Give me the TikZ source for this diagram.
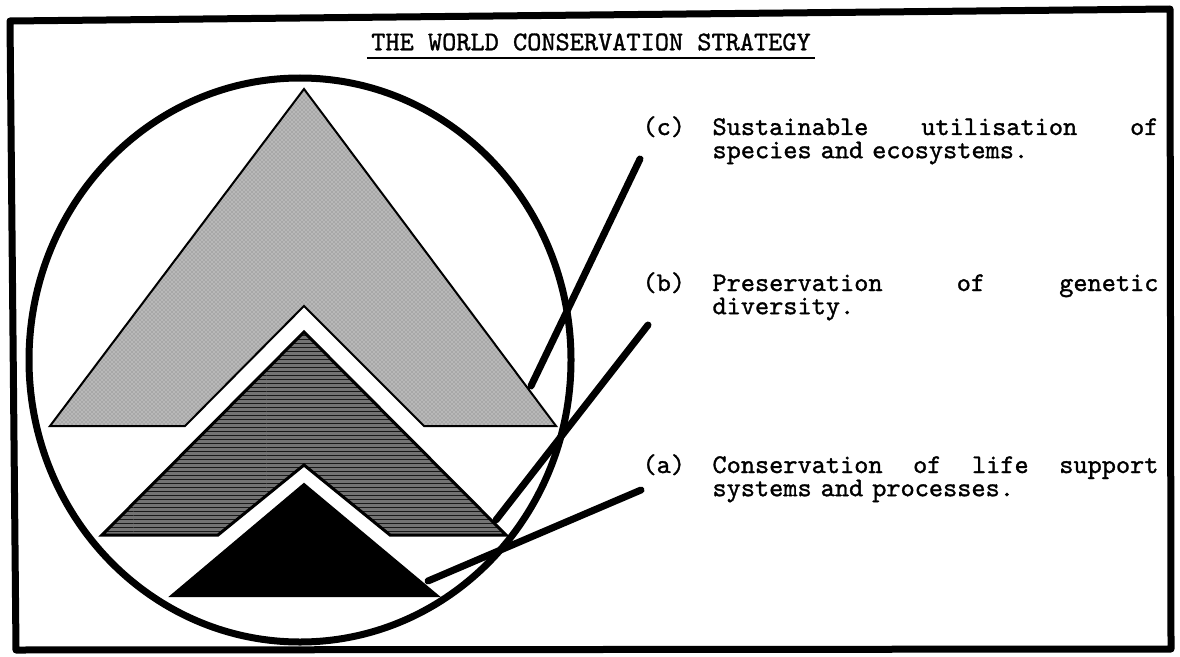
\documentclass[tikz,border=0pt]{standalone}
\usepackage{fontspec}
\usetikzlibrary{patterns}

\newfontfamily\typewriter{lmmono10-regular.otf}[FakeBold=1.2, WordSpace={1,0,0}]
\newcommand\notefont{\typewriter\fontsize{20.25pt}{17.4pt}\selectfont}

\tikzset{every picture/.style={line width=0.75pt}}
\tikzset{
  frameline/.style={line width=5.25pt, line join=round},
  leader/.style={line width=5.25pt, line cap=round},
  chevron/.style={draw=black, line width=1.5pt, line join=miter},
  note/.style={font=\notefont, inner sep=0pt},
}

\begin{document}
\begin{tikzpicture}[x=0.75pt,y=0.75pt,yscale=-1,xscale=1]
\useasboundingbox (0,0) rectangle (1180,656);

%Shape: Frame
\draw[frameline] (10,21) -- (1170,9) -- (1171,649) -- (16,650) -- cycle;

%Shape: Polygon [light chevron]
\fill[black!28] (304,89) -- (556,426) -- (424,426) -- (304,306) -- (185,426) -- (50,426) -- cycle;
\fill[pattern=crosshatch dots, pattern color=black!55] (304,89) -- (556,426) -- (424,426) -- (304,306) -- (185,426) -- (50,426) -- cycle;
\draw[chevron] (304,89) -- (556,426) -- (424,426) -- (304,306) -- (185,426) -- (50,426) -- cycle;

%Shape: Polygon [hatched chevron]
\fill[black!55] (304,332) -- (506,535) -- (390,535) -- (304,465) -- (218,535) -- (102,535) -- cycle;
\fill[pattern=horizontal lines, pattern color=black!90] (304,332) -- (506,535) -- (390,535) -- (304,465) -- (218,535) -- (102,535) -- cycle;
\draw[chevron, line width=2.25pt] (304,332) -- (506,535) -- (390,535) -- (304,465) -- (218,535) -- (102,535) -- cycle;

%Shape: Triangle [black]
\draw[chevron, fill=black] (304,484) -- (438,596) -- (171,596) -- cycle;

%Shape: Circle
\draw[line width=5.25pt] (300,360) ellipse [x radius=271, y radius=282];

% Text Node
\node[note, inner xsep=3pt, inner ysep=5pt] (title) at (591,42) {THE WORLD CONSERVATION STRATEGY};
\draw[line width=1.5pt] (title.south west) -- (title.south east);

% Text Node
\node[note, anchor=base west] (lc) at (642,135) {(c)};
\node[note, anchor=base west, text width=334.5pt] (tc) at (712,135) {\makebox[\linewidth][s]{Sustainable\hfill utilisation\hfill of}\\\makebox{species and ecosystems.}};
% Text Node
\node[note, anchor=base west] (lb) at (642,291) {(b)};
\node[note, anchor=base west, text width=334.5pt] (tb) at (712,291) {\makebox[\linewidth][s]{Preservation\hfill of\hfill genetic}\\\makebox{diversity.}};
% Text Node
\node[note, anchor=base west] (la) at (642,473) {(a)};
\node[note, anchor=base west, text width=334.5pt] (ta) at (712,473) {\makebox[\linewidth][s]{Conservation\hfill of\hfill life\hfill support}\\\makebox{systems and processes.}};

%Straight Lines [leaders]
\coordinate (cTop) at (640,159);
\coordinate (cEnd) at (531,386);
\coordinate (bTop) at (648,325);
\coordinate (bEnd) at (496,520);
\coordinate (aTop) at (641,490);
\coordinate (aEnd) at (428,581);
\draw[leader] (cTop) -- (cEnd);
\draw[leader] (bTop) -- (bEnd);
\draw[leader] (aTop) -- (aEnd);

\end{tikzpicture}
\end{document}
